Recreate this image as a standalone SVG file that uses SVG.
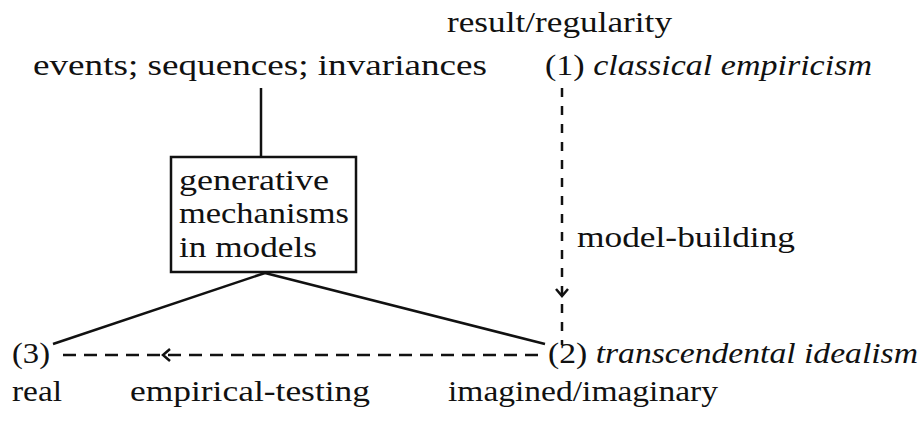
<svg xmlns="http://www.w3.org/2000/svg" width="924" height="421" viewBox="0 0 924 421">
<style>
text{font-family:"Liberation Serif","Times New Roman",serif;font-size:30px;fill:#111}
.it{font-style:italic}
.ln{stroke:#111;stroke-width:2.5;fill:none}
.dash{stroke:#111;stroke-width:2.5;fill:none;stroke-dasharray:13,8}
.vdash{stroke:#111;stroke-width:2.5;fill:none;stroke-dasharray:9,9}
</style>
<rect width="924" height="421" fill="#fff"/>
<g id="connectors">
<line class="ln" x1="261" y1="88" x2="261" y2="157"/>
<line class="ln" x1="265" y1="273" x2="53" y2="344"/>
<line class="ln" x1="265" y1="273" x2="545" y2="344"/>
<line class="vdash" x1="562" y1="88" x2="562" y2="345"/>
<path class="ln" d="M556,289 L562,296 L568,289"/>
<line class="dash" x1="63" y1="355" x2="540" y2="355"/>
<path class="ln" d="M170,349 L163,355 L170,361"/>
</g>
<g id="result"><text x="447" y="32" textLength="225" lengthAdjust="spacingAndGlyphs">result/regularity</text></g>
<g id="events"><text x="33" y="75" textLength="454" lengthAdjust="spacingAndGlyphs">events; sequences; invariances</text></g>
<g id="n1"><text x="545" y="75" textLength="327" lengthAdjust="spacingAndGlyphs">(1) <tspan class="it">classical empiricism</tspan></text></g>
<g id="box">
<rect x="171" y="157" width="185" height="115" fill="#fff" stroke="#111" stroke-width="2.5"/>
<text x="179" y="190" textLength="150" lengthAdjust="spacingAndGlyphs">generative</text>
<text x="179" y="223" textLength="170" lengthAdjust="spacingAndGlyphs">mechanisms</text>
<text x="179" y="257" textLength="138" lengthAdjust="spacingAndGlyphs">in models</text>
</g>
<g id="modelbuilding"><text x="577" y="247" textLength="218" lengthAdjust="spacingAndGlyphs">model-building</text></g>
<g id="n3"><text x="12" y="363" textLength="38" lengthAdjust="spacingAndGlyphs">(3)</text><text x="12" y="401" textLength="50" lengthAdjust="spacingAndGlyphs">real</text></g>
<g id="emp"><text x="130" y="401" textLength="240" lengthAdjust="spacingAndGlyphs">empirical-testing</text></g>
<g id="n2"><text x="548" y="363" textLength="370" lengthAdjust="spacingAndGlyphs">(2) <tspan class="it">transcendental idealism</tspan></text><text x="448" y="401" textLength="270" lengthAdjust="spacingAndGlyphs">imagined/imaginary</text></g>
</svg>
